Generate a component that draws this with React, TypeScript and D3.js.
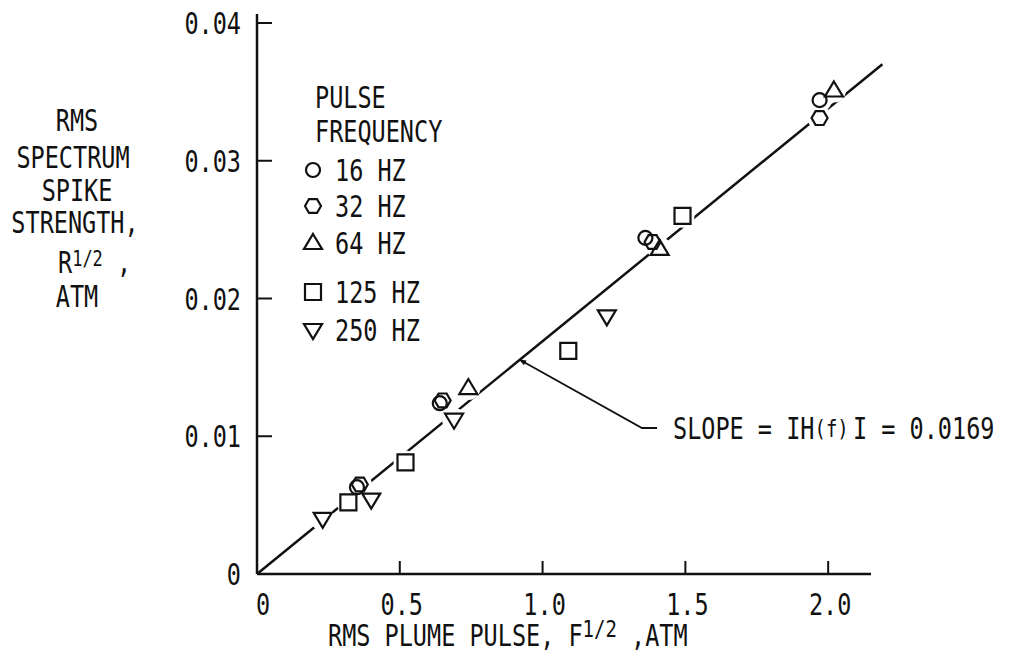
import React from "react";
import * as d3 from "d3";

// pulse frequency series, x = rms plume pulse F^1/2 (atm), y = rms spike strength R^1/2 (atm)
const hz16x = [0.35, 0.64, 1.36, 1.97];
const hz16y = [0.0063, 0.0124, 0.0244, 0.0344];
const hz32x = [0.36, 0.65, 1.385, 1.97];
const hz32y = [0.0065, 0.0126, 0.0241, 0.0331];
const hz64x = [0.74, 1.41, 2.02];
const hz64y = [0.0135, 0.0236, 0.0351];
const hz125x = [0.32, 0.52, 1.09, 1.49];
const hz125y = [0.0052, 0.0081, 0.0162, 0.026];
const hz250x = [0.23, 0.4, 0.69, 1.225];
const hz250y = [0.004, 0.0054, 0.0112, 0.0187];

const legendLabels = ["16 HZ", "32 HZ", "64 HZ", "125 HZ", "250 HZ"];
const xTicks = [0, 0.5, 1.0, 1.5, 2.0];
const xTickLabels = ["0", "0.5", "1.0", "1.5", "2.0"];
const yTicks = [0, 0.01, 0.02, 0.03, 0.04];
const yTickLabels = ["0", "0.01", "0.02", "0.03", "0.04"];
const slope = 0.0169;
const lineEnd = 2.19;
const arrowAt = 0.92;

const FONT = "'DejaVu Sans Mono', 'Liberation Mono', monospace";
const SY = 1.25; // lettering is taller than the mono font

type Shape = "circle" | "hexagon" | "up" | "square" | "down";

function markerPath(shape: Shape): string {
  const p = d3.path();
  if (shape === "circle") {
    p.arc(0, 0, 7, 0, Math.PI * 2);
  } else if (shape === "hexagon") {
    const r = 8;
    for (let i = 0; i < 6; i++) {
      const a = (Math.PI / 3) * i;
      const px = r * Math.cos(a), py = r * Math.sin(a);
      if (i === 0) p.moveTo(px, py); else p.lineTo(px, py);
    }
    p.closePath();
  } else if (shape === "square") {
    p.rect(-8, -8, 16, 16);
  } else if (shape === "up") {
    p.moveTo(0, -9); p.lineTo(9, 6); p.lineTo(-9, 6); p.closePath();
  } else {
    p.moveTo(-9, -6); p.lineTo(9, -6); p.lineTo(0, 9); p.closePath();
  }
  return p.toString();
}

const series: { shape: Shape; xs: number[]; ys: number[] }[] = [
  { shape: "circle", xs: hz16x, ys: hz16y },
  { shape: "hexagon", xs: hz32x, ys: hz32y },
  { shape: "up", xs: hz64x, ys: hz64y },
  { shape: "square", xs: hz125x, ys: hz125y },
  { shape: "down", xs: hz250x, ys: hz250y },
];

function T(props: { x: number; y: number; anchor?: string; children: React.ReactNode }) {
  return (
    <text transform={`translate(${props.x},${props.y}) scale(1,${SY})`} textAnchor={props.anchor || "start"}>
      {props.children}
    </text>
  );
}

export default function App() {
  const x = d3.scaleLinear().domain([0, 2.15]).range([257, 871]);
  const y = d3.scaleLinear().domain([0, 0.04]).range([574, 23]);

  const fit = d3.line<number>().x((d) => x(d)).y((d) => y(d * slope));
  const points = series.flatMap((s) => s.xs.map((v, i) => ({ shape: s.shape, cx: x(v), cy: y(s.ys[i]) })));

  const tipX = x(arrowAt), tipY = y(arrowAt * slope);
  const legendY = [170, 206, 243, 292, 330];

  return (
    <svg width={1010} height={659} style={{ position: "absolute", left: 0, top: 0, background: "#fff" }}
      fontFamily={FONT} fontSize={23.5} fill="#111">
      <defs>
        <marker id="arr" viewBox="0 0 10 10" refX={9} refY={5} markerWidth={9} markerHeight={7} orient="auto" markerUnits="userSpaceOnUse">
          <path d="M0,1 L10,5 L0,9 Z" fill="#111" />
        </marker>
      </defs>

      {/* axes */}
      <line x1={x(0)} x2={x(0)} y1={y(0)} y2={14} stroke="#111" strokeWidth={2.5} />
      <line x1={x(0)} x2={x(2.15)} y1={y(0)} y2={y(0)} stroke="#111" strokeWidth={2.5} />
      {yTicks.slice(1).map((t) => (
        <line key={"yt" + t} x1={x(0)} x2={x(0) + 15} y1={y(t)} y2={y(t)} stroke="#111" strokeWidth={2} />
      ))}
      {xTicks.slice(1).map((t) => (
        <line key={"xt" + t} x1={x(t)} x2={x(t)} y1={y(0)} y2={y(0) - 13} stroke="#111" strokeWidth={2} />
      ))}
      {yTicks.map((t, i) => (
        <T key={"yl" + t} x={x(0) - 16} y={y(t) + 11} anchor="end">{yTickLabels[i]}</T>
      ))}
      {xTicks.map((t, i) => (
        <T key={"xl" + t} x={x(t) + (i === 0 ? 6 : 2)} y={615} anchor="middle">{xTickLabels[i]}</T>
      ))}

      {/* axis titles */}
      <T x={328} y={646}>
        RMS PLUME PULSE, F<tspan fontSize={19} dy={-7}>1/2</tspan><tspan dy={7}> ,ATM</tspan>
      </T>
      <T x={77} y={131} anchor="middle">RMS</T>
      <T x={73} y={168} anchor="middle">SPECTRUM</T>
      <T x={77} y={201} anchor="middle">SPIKE</T>
      <T x={75} y={233} anchor="middle">STRENGTH,</T>
      <T x={58} y={273}>R<tspan fontSize={17} dy={-6}>1/2</tspan><tspan dy={6}> ,</tspan></T>
      <T x={77} y={307} anchor="middle">ATM</T>

      {/* fit line with gaps around markers */}
      <path d={fit([0, lineEnd]) || ""} stroke="#111" strokeWidth={2.5} fill="none" />
      {points.map((p, i) => (
        <circle key={"h" + i} cx={p.cx} cy={p.cy} r={12} fill="#fff" />
      ))}
      {points.map((p, i) => (
        <path key={"m" + i} d={markerPath(p.shape)} transform={`translate(${p.cx},${p.cy})`}
          fill="none" stroke="#111" strokeWidth={2.2} />
      ))}

      {/* legend */}
      <T x={315} y={108}>PULSE</T>
      <T x={315} y={142}>FREQUENCY</T>
      {series.map((s, i) => (
        <g key={"lg" + i}>
          <path d={markerPath(s.shape)} transform={`translate(313,${legendY[i]})`} fill="none" stroke="#111" strokeWidth={2.2} />
          <T x={335} y={legendY[i] + 11}>{legendLabels[i]}</T>
        </g>
      ))}

      {/* slope annotation */}
      <path d={`M657,428 L642,428 L${tipX},${tipY}`} fill="none" stroke="#111" strokeWidth={1.8} markerEnd="url(#arr)" />
      <T x={673} y={439}>
        SLOPE = IH<tspan fontSize={19} dy={-2}>(f)</tspan><tspan x={180} dy={2}>I = 0.0169</tspan>
      </T>
    </svg>
  );
}
